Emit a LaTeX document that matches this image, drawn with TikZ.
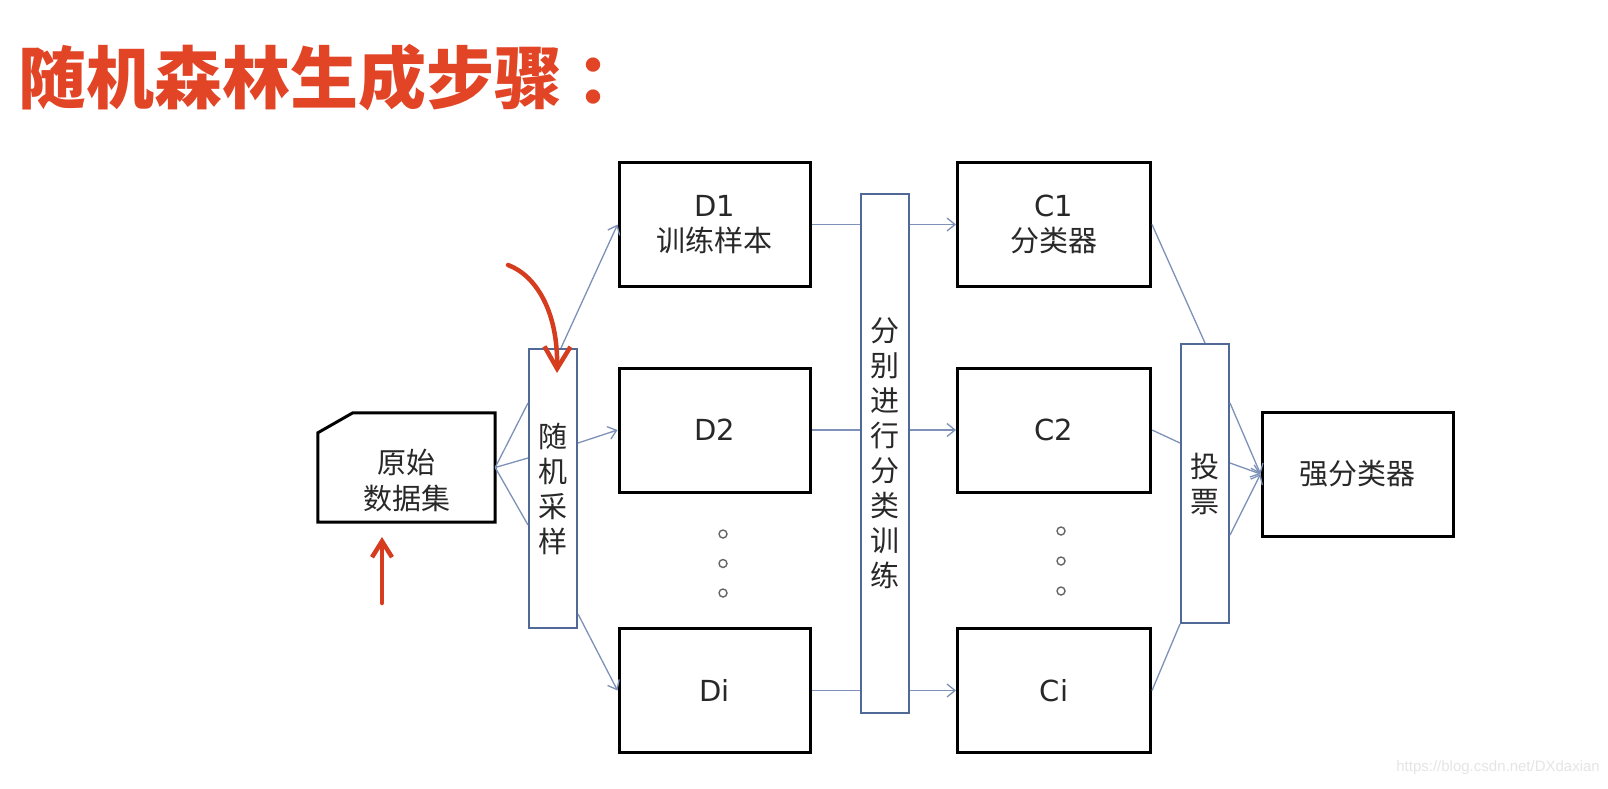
\documentclass[tikz,border=0pt]{standalone}
\usepackage{fontspec}
\usepackage{tikz}
\usetikzlibrary{positioning,arrows.meta}
\setmainfont{DejaVu Sans}
\newfontfamily\cjk{Noto Sans CJK SC}
\newfontfamily\wmfont{Liberation Sans}
\definecolor{titlered}{RGB}{226,68,38}
\definecolor{barblue}{RGB}{80,105,150}
\definecolor{linkblue}{RGB}{125,145,185}
\definecolor{penred}{RGB}{214,60,30}
\definecolor{inkgray}{RGB}{40,40,40}

\begin{document}
\begin{tikzpicture}[x=1pt, y=-1pt,
  box/.style={draw=black, line width=3pt, minimum width=191pt, minimum height=124pt, inner sep=0pt, align=center, text=inkgray, font=\fontsize{29}{35}\selectfont},
  bar/.style={draw=barblue, line width=2pt, minimum width=48pt, inner sep=0pt, align=center, text=inkgray, font=\cjk\fontsize{29}{35}\selectfont},
  dot/.style={circle, draw=black!60, line width=1.4pt, inner sep=0pt, minimum size=8pt},
  link/.style={draw=linkblue, line width=1.3pt},
  arr/.style={link, -{Straight Barb[length=8pt,width=13pt]}},
  pen/.style={draw=penred, line width=4.5pt, line cap=round}]
  \fill[white] (0,0) rectangle (1608,788);
  \useasboundingbox (0,0) rectangle (1608,788);

  \node[anchor=west, inner sep=0pt, text=titlered, font=\cjk\bfseries\fontsize{68}{68}\selectfont] (title) at (18,78) {随机森林生成步骤\kern14pt：};

  % data and sampling
  \node[minimum width=177pt, minimum height=109pt, inner sep=0pt] (data) at (406.5,467.5) {};
  \draw[line width=3pt] ([yshift=-20pt]data.north west) -- ([xshift=35pt]data.north west) -- (data.north east) -- (data.south east) -- (data.south west) -- cycle;
  \node[align=center, text=inkgray, font=\cjk\fontsize{29}{36}\selectfont] (datatext) at ([yshift=-13pt]data.center) {原始\\数据集};
  \node[bar, minimum height=279pt] (sample) at (553,488.5) {随\\机\\采\\样};

  \node[box] (D1) at (714.5,224.5) {D1\\{\cjk 训练样本}};
  \node[box] (D2) at (714.5,430) {D2};
  \node[box] (Di) at (714.5,690.5) {Di};
  \node[bar, minimum height=519pt] (train) at (885,453.5) {分\\别\\进\\行\\分\\类\\训\\练};

  \node[box, minimum width=193pt] (C1) at (1054,224.5) {C1\\{\cjk 分类器}};
  \node[box, minimum width=193pt] (C2) at (1054,430) {C2};
  \node[box, minimum width=193pt] (Ci) at (1054,690.5) {Ci};
  \node[bar, minimum height=279pt] (vote) at (1205,483.5) {投\\票};
  \node[box] (strong) at (1357.5,474) {\cjk 强分类器};

  \foreach \k in {0,1,2} {
    \node[dot] (dd\k) at (723,534+29.5*\k) {};
    \node[dot] (cd\k) at (1061,531+30*\k) {};
  }

  % connectors
  \foreach \s in {85.5,30.5,-36.5}
    \draw[link] (data.east) -- ([yshift=\s pt]sample.west);
  \draw[arr] ([xshift=8pt]sample.north) -- (D1.west);
  \draw[arr] ([yshift=45.5pt]sample.east) -- (D2.west);
  \draw[arr] ([yshift=15pt]sample.south east) -- (Di.west);
  \foreach \d/\c in {D1/C1,D2/C2,Di/Ci} {
    \draw[link] (\d.east) -- (\d.east -| train.west);
    \draw[arr] (\d.east -| train.east) -- (\c.west);
  }
  \draw[link] (C1.east) -- (vote.north);
  \draw[link] (C2.east) -- ([yshift=40.5pt]vote.west);
  \draw[link] (Ci.east) -- (vote.south west);
  \foreach \s in {80.5,20.5,-51.5}
    \draw[arr] ([yshift=\s pt]vote.east) -- (strong.west);

  % red pen marks
  \coordinate (penA) at (508,265);
  \coordinate (penB) at (557,373);
  \coordinate (penC) at (382,603);
  \coordinate (penD) at (382,537);
  \draw[pen, -{Straight Barb[length=22pt,width=26pt]}] (penA) .. controls (535,275) and (558,310) .. (penB);
  \draw[pen, -{Straight Barb[length=16pt,width=20pt]}] (penC) -- (penD);

  \node[anchor=east, inner sep=0pt, text=black!10, font=\wmfont\fontsize{15}{15}\selectfont] (mark) at (1600,768) {https://blog.csdn.net/DXdaxian};
\end{tikzpicture}
\end{document}
